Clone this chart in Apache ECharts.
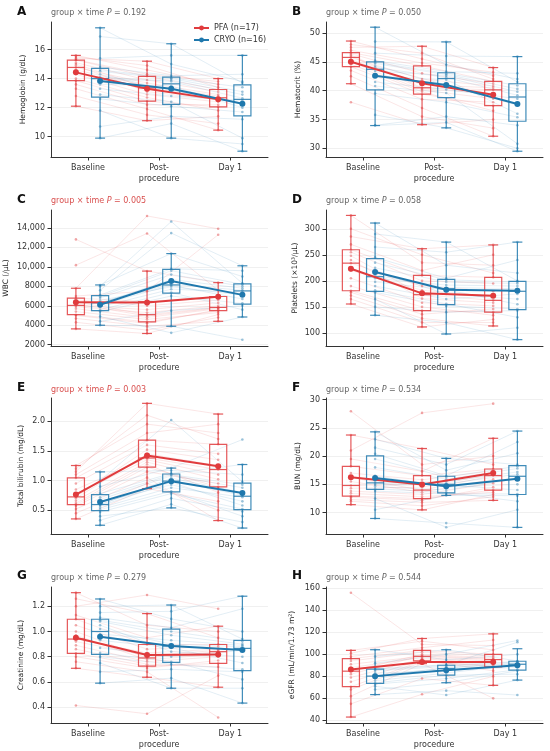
<!DOCTYPE html>
<html lang="en">
<head>
<meta charset="UTF-8">
<title>Laboratory trajectories PFA vs CRYO</title>
<script src="https://cdn.jsdelivr.net/npm/echarts@6/dist/echarts.min.js"></script>
<style>
  * { margin: 0; padding: 0; }
  body { background: #ffffff; }
  #chart { width: 550px; height: 751px; }
</style>
</head>
<body>
<div id="chart"></div>
<script>
// ---- data ----
const timeLabels = ['Baseline', 'Post-\nprocedure', 'Day 1'];
const panelLetters = ['A', 'B', 'C', 'D', 'E', 'F', 'G', 'H'];
const yNames = ['Hemoglobin (g/dL)', 'Hematocrit (%)', 'WBC (/μL)', 'Platelets (×10³/μL)',
  'Total bilirubin (mg/dL)', 'BUN (mg/dL)', 'Creatinine (mg/dL)', 'eGFR (mL/min/1.73 m²)'];
const pValues = ['0.192', '0.050', '0.005', '0.058', '0.003', '0.534', '0.279', '0.544'];
const pSignificant = [false, false, true, false, true, false, false, false];
const yTicks = [
  [10, 12, 14, 16], [30, 35, 40, 45, 50], [2000, 4000, 6000, 8000, 10000, 12000, 14000],
  [100, 150, 200, 250, 300], [0.5, 1.0, 1.5, 2.0], [10, 15, 20, 25, 30],
  [0.4, 0.6, 0.8, 1.0, 1.2], [40, 60, 80, 100, 120, 140, 160]
];
const yMins = [8.6, 28.5, 1870, 75, 0.1, 6.2, 0.274, 37.6];
const yMaxs = [17.9, 51.9, 15830, 336, 2.39, 30.3, 1.353, 161.2];
const yDigits = [0, 0, 0, 0, 1, 0, 1, 0];
const groupNames = ['PFA (n=17)', 'CRYO (n=16)'];

// box stats per time point: [min, q1, median, q3, max]
const hgbPfaBox = [[12.1, 13.86, 14.77, 15.27, 15.6], [11.1, 12.45, 13.36, 14.16, 15.2], [10.45, 12.05, 12.68, 13.25, 14.0]];
const hgbCryoBox = [[9.9, 12.73, 14.0, 14.7, 17.5], [9.9, 12.23, 13.64, 14.1, 16.4], [9.0, 11.43, 12.57, 13.57, 15.6]];
const hctPfaBox = [[41.2, 44.15, 45.76, 46.6, 48.6], [34.1, 39.4, 40.5, 44.3, 47.7], [32.1, 37.4, 40.14, 41.6, 44.0]];
const hctCryoBox = [[33.95, 40.14, 43.7, 45.0, 51.0], [33.55, 38.8, 42.1, 43.1, 48.45], [29.5, 34.7, 38.9, 41.2, 45.9]];
const wbcPfaBox = [[3627, 5085, 6034, 6780, 7797], [3153, 4340, 5085, 6440, 9559], [4407, 5492, 5830, 6950, 8373]];
const wbcCryoBox = [[4000, 5492, 6300, 7051, 8136], [3898, 7288, 8136, 9729, 11356], [4847, 6169, 7525, 8237, 10102]];
const pltPfaBox = [[155.6, 181, 234, 259.7, 325.6], [111.5, 142.8, 173.5, 210.5, 261.7], [113.4, 140, 162.6, 206.7, 269]];
const pltCryoBox = [[134, 180, 208, 242.5, 311], [98, 154.3, 185, 203, 274.4], [87.2, 144.7, 180, 199, 274.4]];
const tbilPfaBox = [[0.354, 0.596, 0.725, 1.045, 1.253], [0.865, 1.225, 1.38, 1.68, 2.30], [0.326, 0.893, 1.185, 1.61, 2.12]];
const tbilCryoBox = [[0.247, 0.494, 0.596, 0.764, 1.146], [0.54, 0.81, 0.99, 1.11, 1.21], [0.20, 0.511, 0.736, 0.955, 1.27]];
const bunPfaBox = [[11.4, 12.92, 14.8, 18.19, 23.74], [10.47, 12.46, 13.98, 16.55, 21.35], [12.16, 13.98, 16.55, 17.72, 23.16]];
const bunCryoBox = [[8.95, 14.1, 15.26, 20.06, 24.3], [13.04, 13.5, 15.0, 16.43, 19.6], [7.37, 13.2, 16.43, 18.3, 24.44]];
const crePfaBox = [[0.708, 0.826, 0.94, 1.097, 1.308], [0.637, 0.726, 0.79, 0.897, 1.142], [0.558, 0.747, 0.84, 0.897, 1.042]];
const creCryoBox = [[0.59, 0.818, 1.0, 1.097, 1.258], [0.55, 0.755, 0.884, 1.018, 1.21], [0.432, 0.69, 0.866, 0.93, 1.28]];
const egfrPfaBox = [[43, 70.6, 84.7, 96.1, 103.6], [91.6, 94, 98.2, 103.6, 114.4], [71.8, 88.6, 95.2, 100, 118.6]];
const egfrCryoBox = [[63.4, 73.6, 80.2, 86.5, 104.2], [74.2, 81.1, 87.1, 90.1, 104.2], [76.6, 85.6, 91, 93.7, 105.1]];

// group means per time point
const hgbPfaMean = [14.43, 13.3, 12.57], hgbCryoMean = [13.84, 13.3, 12.27];
const hctPfaMean = [45.0, 41.3, 39.3], hctCryoMean = [42.6, 41.0, 37.7];
const wbcPfaMean = [6373, 6340, 6915], wbcCryoMean = [6100, 8542, 7119];
const pltPfaMean = [223.3, 176, 171.6], pltCryoMean = [217, 183, 181];
const tbilPfaMean = [0.764, 1.42, 1.24], tbilCryoMean = [0.64, 0.99, 0.79];
const bunPfaMean = [16.26, 14.97, 17.0], bunCryoMean = [16.14, 14.68, 16.0];
const crePfaMean = [0.95, 0.813, 0.818], creCryoMean = [0.958, 0.884, 0.853];
const egfrPfaMean = [86.2, 93.1, 93.1], egfrCryoMean = [80.2, 85.6, 90.1];

// individual values per time point (sorted), estimated from the dots
const hgbPfaPts = [
  [12.1, 12.8, 13.3, 13.6, 13.86, 14.0, 14.3, 14.6, 14.77, 14.9, 15.0, 15.1, 15.27, 15.3, 15.4, 15.5, 15.6],
  [11.1, 11.5, 11.9, 12.2, 12.45, 12.7, 12.9, 13.1, 13.36, 13.5, 13.7, 13.9, 14.16, 14.3, 14.6, 14.9, 15.2],
  [10.45, 10.9, 11.4, 11.8, 12.05, 12.2, 12.4, 12.55, 12.68, 12.8, 12.9, 13.1, 13.25, 13.4, 13.6, 13.8, 14.0]];
const hgbCryoPts = [
  [9.9, 10.7, 11.8, 12.6, 12.9, 13.3, 13.6, 13.9, 14.1, 14.3, 14.5, 14.6, 14.8, 15.4, 16.9, 17.5],
  [9.9, 10.9, 11.4, 12.1, 12.4, 12.8, 13.2, 13.5, 13.8, 13.9, 14.0, 14.05, 14.2, 15.0, 15.6, 16.4],
  [9.0, 9.5, 9.9, 11.2, 11.7, 12.0, 12.3, 12.5, 12.65, 12.9, 13.1, 13.4, 13.7, 13.8, 14.3, 15.6]];
const hctPfaPts = [
  [38.0, 41.2, 42.5, 43.5, 44.15, 44.6, 45.0, 45.4, 45.76, 46.0, 46.2, 46.4, 46.6, 47.0, 47.5, 48.0, 48.6],
  [34.1, 35.5, 37.0, 38.5, 39.4, 39.8, 40.1, 40.3, 40.5, 41.0, 42.0, 43.0, 44.3, 44.8, 45.5, 46.5, 47.7],
  [32.1, 33.5, 35.0, 36.5, 37.4, 38.0, 38.6, 39.5, 40.14, 40.5, 40.8, 41.2, 41.6, 42.0, 42.6, 43.2, 44.0]];
const hctCryoPts = [
  [33.95, 34.0, 35.8, 39.5, 40.8, 41.5, 42.5, 43.4, 44.0, 44.3, 44.7, 44.9, 45.2, 46.5, 48.5, 51.0],
  [33.55, 34.5, 35.5, 38.0, 39.6, 40.2, 41.0, 41.9, 42.3, 42.6, 42.8, 43.0, 43.3, 44.5, 46.0, 48.45],
  [29.5, 30.0, 30.8, 34.0, 35.4, 36.0, 37.5, 38.6, 39.2, 39.8, 40.3, 40.9, 41.5, 42.0, 43.0, 45.9]];
const wbcPfaPts = [
  [3627, 4300, 4700, 5000, 5085, 5400, 5700, 5900, 6034, 6200, 6400, 6600, 6780, 7000, 7797, 10170, 12814],
  [3153, 3500, 3900, 4200, 4340, 4600, 4800, 4950, 5085, 5300, 5600, 6000, 6440, 7500, 9559, 13424, 15220],
  [4407, 4800, 5100, 5300, 5492, 5600, 5700, 5780, 5830, 6000, 6300, 6600, 6950, 7600, 8373, 13290, 13900]];
const wbcCryoPts = [
  [4000, 4400, 4900, 5400, 5600, 5900, 6100, 6250, 6350, 6550, 6800, 6950, 7100, 7600, 8000, 8136],
  [3220, 3898, 5500, 7000, 7350, 7700, 7950, 8100, 8200, 8700, 9200, 9600, 9800, 11356, 13458, 14644],
  [2508, 4847, 5600, 6000, 6250, 6700, 7100, 7400, 7600, 7800, 8000, 8200, 8300, 9000, 9600, 10102]];
const pltPfaPts = [
  [155.6, 165, 172, 178, 181, 190, 205, 220, 234, 240, 248, 255, 259.7, 270, 285, 300, 325.6],
  [111.5, 120, 128, 136, 142.8, 150, 158, 166, 173.5, 182, 190, 200, 210.5, 220, 235, 250, 261.7],
  [113.4, 120, 126, 134, 140, 146, 152, 158, 162.6, 170, 180, 195, 206.7, 215, 230, 250, 269]];
const pltCryoPts = [
  [134, 150, 165, 178, 182, 190, 198, 205, 211, 218, 225, 235, 245, 265, 290, 311],
  [98, 120, 140, 152, 156, 165, 175, 183, 187, 192, 198, 202, 205, 230, 255, 274.4],
  [87.2, 110, 130, 143, 146, 155, 165, 175, 185, 190, 195, 198, 200, 215, 240, 274.4]];
const tbilPfaPts = [
  [0.354, 0.45, 0.52, 0.57, 0.596, 0.62, 0.66, 0.7, 0.725, 0.78, 0.85, 0.95, 1.045, 1.1, 1.15, 1.2, 1.253],
  [0.865, 0.95, 1.05, 1.15, 1.225, 1.27, 1.31, 1.35, 1.38, 1.45, 1.52, 1.6, 1.68, 1.8, 1.95, 2.1, 2.3],
  [0.326, 0.5, 0.65, 0.8, 0.893, 0.95, 1.02, 1.1, 1.185, 1.25, 1.35, 1.45, 1.61, 1.7, 1.8, 1.95, 2.12]];
const tbilCryoPts = [
  [0.247, 0.33, 0.4, 0.47, 0.51, 0.54, 0.57, 0.59, 0.6, 0.63, 0.68, 0.72, 0.78, 0.9, 1.0, 1.146],
  [0.54, 0.6, 0.7, 0.78, 0.82, 0.88, 0.93, 0.97, 1.0, 1.04, 1.08, 1.1, 1.12, 1.17, 1.21, 2.02],
  [0.2, 0.3, 0.4, 0.48, 0.52, 0.58, 0.65, 0.72, 0.75, 0.8, 0.88, 0.93, 0.98, 1.1, 1.27, 1.69]];
const bunPfaPts = [
  [11.4, 12.0, 12.3, 12.7, 12.92, 13.4, 13.8, 14.3, 14.8, 15.5, 16.2, 17.0, 18.19, 19.5, 21.0, 23.74, 27.95],
  [10.47, 11.2, 11.8, 12.2, 12.46, 12.8, 13.2, 13.6, 13.98, 14.5, 15.0, 15.8, 16.55, 17.3, 18.5, 21.35, 27.66],
  [12.16, 12.8, 13.2, 13.6, 13.98, 14.5, 15.2, 15.9, 16.55, 16.8, 17.1, 17.4, 17.72, 18.5, 20.0, 23.16, 29.3]];
const bunCryoPts = [
  [8.95, 10.5, 12.5, 13.8, 14.2, 14.6, 14.9, 15.1, 15.4, 16.5, 18.0, 19.5, 20.4, 21.5, 23.0, 24.3],
  [7.4, 8.13, 13.04, 13.3, 13.6, 14.0, 14.5, 14.9, 15.1, 15.5, 15.9, 16.3, 16.5, 17.5, 18.5, 19.6],
  [7.37, 10.5, 12.0, 13.0, 13.3, 14.0, 15.0, 16.0, 16.8, 17.2, 17.8, 18.2, 18.5, 20.5, 22.5, 24.44]];
const crePfaPts = [
  [0.413, 0.708, 0.76, 0.8, 0.826, 0.86, 0.89, 0.92, 0.94, 0.97, 1.0, 1.05, 1.097, 1.13, 1.2, 1.26, 1.308],
  [0.347, 0.637, 0.68, 0.71, 0.726, 0.74, 0.76, 0.775, 0.79, 0.81, 0.83, 0.86, 0.897, 0.95, 1.05, 1.142, 1.29],
  [0.318, 0.558, 0.65, 0.72, 0.747, 0.77, 0.8, 0.82, 0.84, 0.85, 0.86, 0.88, 0.897, 0.95, 1.0, 1.042, 1.18]];
const creCryoPts = [
  [0.59, 0.68, 0.75, 0.8, 0.83, 0.87, 0.93, 0.98, 1.02, 1.05, 1.08, 1.09, 1.11, 1.15, 1.2, 1.258],
  [0.55, 0.63, 0.7, 0.74, 0.76, 0.8, 0.84, 0.87, 0.9, 0.93, 0.97, 1.0, 1.03, 1.1, 1.16, 1.21],
  [0.432, 0.55, 0.62, 0.68, 0.7, 0.75, 0.8, 0.85, 0.88, 0.89, 0.9, 0.92, 0.94, 1.0, 1.18, 1.28]];
const egfrPfaPts = [
  [43, 55, 62, 68, 70.6, 75, 79, 82, 84.7, 88, 91, 94, 96.1, 98, 101, 103.6, 156],
  [63.7, 78, 91.6, 93, 94, 95, 96, 97, 98.2, 99, 100, 102, 103.6, 106, 109, 112, 114.4],
  [60, 71.8, 80, 85, 88.6, 90, 92, 94, 95.2, 96, 97, 98.5, 100, 104, 108, 113, 118.6]];
const egfrCryoPts = [
  [63.4, 68, 71, 73, 74, 76, 78, 79.5, 81, 83, 85, 86, 87, 92, 98, 104.2],
  [63, 67, 74.2, 78, 81, 83, 85, 86.5, 87.5, 88, 89, 90, 90.5, 95, 100, 104.2],
  [63, 76.6, 82, 85, 86, 88, 89.5, 90.5, 91.5, 92, 93, 93.5, 94, 100, 111, 112.6]];

// which sorted dot each patient occupies at each time (for the thin patient lines)
const pfaPairing = [
  [16, 0, 8, 13, 3, 9, 12, 2, 6, 15, 1, 7, 10, 4, 14, 5, 11],
  [14, 0, 10, 13, 3, 7, 12, 2, 6, 15, 1, 9, 8, 4, 16, 5, 11],
  [14, 2, 10, 15, 5, 7, 12, 0, 6, 13, 1, 9, 8, 4, 16, 3, 11]];
const cryoPairing = [
  [15, 0, 7, 12, 3, 9, 11, 2, 6, 14, 1, 8, 10, 4, 13, 5],
  [13, 1, 9, 12, 3, 6, 11, 0, 7, 15, 2, 8, 10, 4, 14, 5],
  [13, 0, 9, 14, 4, 6, 11, 1, 5, 12, 3, 8, 10, 2, 15, 7]];

const panels = [
  { box: [hgbPfaBox, hgbCryoBox], mean: [hgbPfaMean, hgbCryoMean], pts: [hgbPfaPts, hgbCryoPts] },
  { box: [hctPfaBox, hctCryoBox], mean: [hctPfaMean, hctCryoMean], pts: [hctPfaPts, hctCryoPts] },
  { box: [wbcPfaBox, wbcCryoBox], mean: [wbcPfaMean, wbcCryoMean], pts: [wbcPfaPts, wbcCryoPts] },
  { box: [pltPfaBox, pltCryoBox], mean: [pltPfaMean, pltCryoMean], pts: [pltPfaPts, pltCryoPts] },
  { box: [tbilPfaBox, tbilCryoBox], mean: [tbilPfaMean, tbilCryoMean], pts: [tbilPfaPts, tbilCryoPts] },
  { box: [bunPfaBox, bunCryoBox], mean: [bunPfaMean, bunCryoMean], pts: [bunPfaPts, bunCryoPts] },
  { box: [crePfaBox, creCryoBox], mean: [crePfaMean, creCryoMean], pts: [crePfaPts, creCryoPts] },
  { box: [egfrPfaBox, egfrCryoBox], mean: [egfrPfaMean, egfrCryoMean], pts: [egfrPfaPts, egfrCryoPts] }
];
const pairings = [pfaPairing, cryoPairing];

// ---- layout / style ----
const FONT = 'DejaVu Sans';
const colors = ['#e03b3d', '#1f78ad'];
const boxColors = ['rgba(224,59,61,0.85)', 'rgba(31,120,173,0.85)'];
const faintColors = ['rgba(230,90,90,0.22)', 'rgba(70,145,190,0.22)'];
const dotColors = ['rgba(224,59,61,0.55)', 'rgba(31,120,173,0.55)'];
const offsets = [-0.17, 0.17];
const boxWidth = 0.24, capWidth = 0.14;
const gridLefts = [51, 326];
const gridTops = [22, 210, 398, 587];
const gridHeights = [135, 136, 136, 136];
const letterLefts = [17, 292];
const letterTops = [6, 194, 382, 570];
const subTops = [8.5, 196.5, 385.5, 573.5];
const nameGaps = [24, 24, 41, 27, 26, 24, 26, 30];

function fmtY(v, digits) {
  if (digits > 0) return v.toFixed(digits);
  return v >= 10000 ? v.toLocaleString('en-US') : String(v);
}

const grid = [], xAxis = [], yAxis = [], series = [], title = [];

panels.forEach((pd, i) => {
  const col = i % 2, row = Math.floor(i / 2);
  grid.push({ left: gridLefts[col], top: gridTops[row], width: 217, height: gridHeights[row] });

  xAxis.push({
    type: 'value', gridIndex: i, min: -0.52, max: 2.53,
    axisLine: { show: true, onZero: false, lineStyle: { color: '#333', width: 1 } },
    axisTick: { show: true, customValues: [0, 1, 2], length: 3.5, lineStyle: { color: '#333' } },
    axisLabel: {
      customValues: [0, 1, 2], formatter: v => timeLabels[Math.round(v)],
      fontSize: 8, color: '#333', margin: 5, lineHeight: 11, fontFamily: FONT
    },
    splitLine: { show: false }
  });

  yAxis.push({
    type: 'value', gridIndex: i, min: yMins[i], max: yMaxs[i],
    name: yNames[i], nameLocation: 'middle', nameGap: nameGaps[i],
    nameTextStyle: { fontSize: 7.5, color: '#222', fontFamily: FONT },
    axisLine: { show: true, onZero: false, lineStyle: { color: '#333', width: 1 } },
    axisTick: { show: true, customValues: yTicks[i], length: 3.5, lineStyle: { color: '#333' } },
    axisLabel: {
      customValues: yTicks[i], formatter: v => fmtY(v, yDigits[i]),
      fontSize: 8, color: '#333', margin: 6, fontFamily: FONT
    },
    splitLine: { show: true, lineStyle: { color: '#ececec', width: 0.8 } }
  });

  title.push({
    text: panelLetters[i], left: letterLefts[col], top: letterTops[row], padding: 0,
    textStyle: { fontSize: 12, fontWeight: 'bold', color: '#111', fontFamily: FONT }
  });
  const pc = pSignificant[i] ? '#d9504f' : '#666';
  title.push({
    text: '{n|group × time }{i|P}{n| = ' + pValues[i] + '}',
    left: gridLefts[col], top: subTops[row], padding: 0,
    textStyle: {
      fontWeight: 'normal', fontSize: 8, color: pc, fontFamily: FONT,
      rich: {
        n: { fontSize: 8, fontWeight: 'normal', color: pc, fontFamily: FONT },
        i: { fontSize: 8, fontWeight: 'normal', color: pc, fontStyle: 'italic', fontFamily: FONT }
      }
    }
  });

  [0, 1].forEach(g => {
    const off = offsets[g];
    const pts = pd.pts[g];
    const pair = pairings[g];

    // thin patient trajectories
    series.push({
      type: 'custom', xAxisIndex: i, yAxisIndex: i, silent: true, z: 1,
      encode: { x: 0, y: [1, 2, 3] },
      data: pair[0].map((_, k) => [1, pts[0][pair[0][k]], pts[1][pair[1][k]], pts[2][pair[2][k]]]),
      renderItem: (params, api) => ({
        type: 'polyline',
        shape: { points: [0, 1, 2].map(t => api.coord([t + off, api.value(t + 1)])) },
        style: { stroke: faintColors[g], lineWidth: 0.7, fill: null }
      })
    });

    // box and whiskers
    series.push({
      type: 'custom', xAxisIndex: i, yAxisIndex: i, silent: true, z: 2,
      encode: { x: 0, y: [1, 2, 3, 4, 5] },
      data: pd.box[g].map((b, t) => [t + off].concat(b)),
      renderItem: (params, api) => {
        const x = api.value(0);
        const yv = [1, 2, 3, 4, 5].map(d => api.coord([x, api.value(d)])[1]);
        const xc = api.coord([x, api.value(3)])[0];
        const half = api.size([boxWidth, 0])[0] / 2;
        const cap = api.size([capWidth, 0])[0] / 2;
        const st = { stroke: boxColors[g], lineWidth: 1.2, fill: null };
        return {
          type: 'group', children: [
            { type: 'rect', shape: { x: xc - half, y: yv[3], width: half * 2, height: yv[1] - yv[3] },
              style: { stroke: boxColors[g], lineWidth: 1.2, fill: 'rgba(255,255,255,0.25)' } },
            { type: 'line', shape: { x1: xc - half, y1: yv[2], x2: xc + half, y2: yv[2] }, style: st },
            { type: 'line', shape: { x1: xc, y1: yv[3], x2: xc, y2: yv[4] }, style: st },
            { type: 'line', shape: { x1: xc, y1: yv[1], x2: xc, y2: yv[0] }, style: st },
            { type: 'line', shape: { x1: xc - cap, y1: yv[4], x2: xc + cap, y2: yv[4] }, style: st },
            { type: 'line', shape: { x1: xc - cap, y1: yv[0], x2: xc + cap, y2: yv[0] }, style: st }
          ]
        };
      }
    });

    // individual dots
    series.push({
      type: 'scatter', xAxisIndex: i, yAxisIndex: i, silent: true, z: 3,
      symbolSize: 2.6,
      itemStyle: { color: dotColors[g] },
      data: pts.flatMap((arr, t) => arr.map(v => [t + off, v]))
    });

    // group mean line
    series.push({
      type: 'line', name: groupNames[g], xAxisIndex: i, yAxisIndex: i, z: 5,
      symbol: 'circle', symbolSize: 6,
      lineStyle: { color: colors[g], width: 2 },
      itemStyle: { color: colors[g] },
      data: pd.mean[g].map((m, t) => [t + off, m])
    });
  });
});

const chart = echarts.init(document.getElementById('chart'));
chart.setOption({
  animation: false,
  backgroundColor: '#ffffff',
  title: title,
  legend: {
    data: groupNames, orient: 'vertical', left: 193, top: 24, padding: 0,
    itemWidth: 15, itemHeight: 6, itemGap: 4,
    textStyle: { fontSize: 8, color: '#333', fontFamily: FONT }
  },
  grid: grid,
  xAxis: xAxis,
  yAxis: yAxis,
  series: series
});
</script>
</body>
</html>
